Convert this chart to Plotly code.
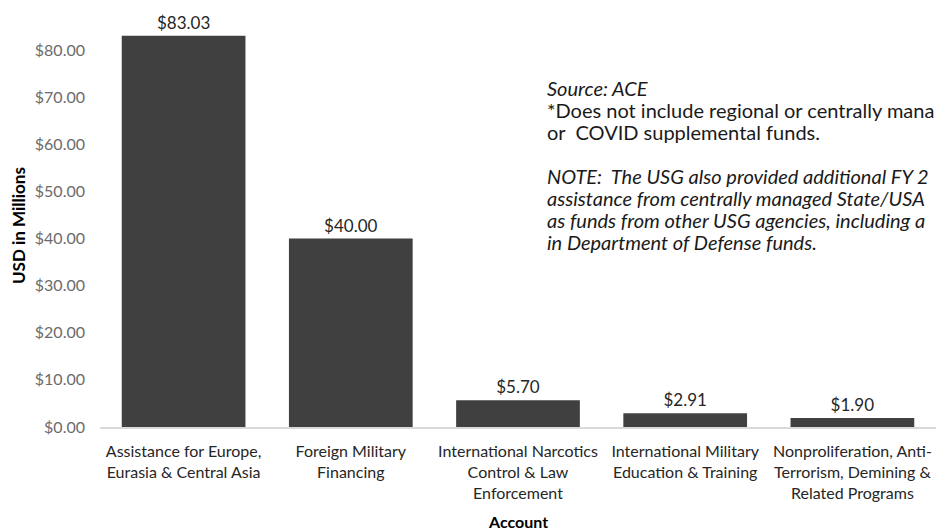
import plotly.graph_objects as go

categories = [
    "Assistance for Europe,<br>Eurasia & Central Asia",
    "Foreign Military<br>Financing",
    "International Narcotics<br>Control & Law<br>Enforcement",
    "International Military<br>Education & Training",
    "Nonproliferation, Anti-<br>Terrorism, Demining &<br>Related Programs",
]
values = [83.03, 40.00, 5.70, 2.91, 1.90]
y_tickvals = [0, 10, 20, 30, 40, 50, 60, 70, 80]
y_ticktext = ["$%.2f" % v for v in y_tickvals]

# note text as visible in the (right-cropped) reference
note_lines = [
    ("<i>Source: ACE</i>", 88),
    ("*Does not include regional or centrally mana", 110),
    ("or  COVID supplemental funds.", 132),
    ("<i>NOTE:  The USG also provided additional FY 2</i>", 176),
    ("<i>assistance from centrally managed State/USA</i>", 198),
    ("<i>as funds from other USG agencies, including a</i>", 220),
    ("<i>in Department of Defense funds.</i>", 242),
]

W, H = 936, 531
L, R, T, B = 100, 0, 3, 104
FONT = "Lato"

fig = go.Figure()
fig.add_trace(go.Bar(
    x=categories, y=values,
    marker=dict(color="#404040", line=dict(width=0)),
    texttemplate="$%{y:.2f}", textposition="outside",
    textfont=dict(family=FONT, size=17, color="#262626"),
    cliponaxis=False,
))

ph = H - T - B
pw = W - L - R
def py(ypx):
    return (H - B - ypx) / ph
def px(xpx):
    return (xpx - L) / pw

annotations = []
for txt, ypos in note_lines:
    annotations.append(dict(
        text=txt, xref="paper", yref="paper", x=px(545), y=py(ypos),
        xanchor="left", yanchor="middle", showarrow=False,
        font=dict(family=FONT, size=20, color="#1a1a1a"),
    ))
annotations.append(dict(
    text="<b>USD in Millions</b>", xref="paper", yref="paper",
    x=px(18), y=py(226), textangle=-90, xanchor="center", yanchor="middle",
    showarrow=False, font=dict(family=FONT, size=17, color="#000000"),
))
annotations.append(dict(
    text="<b>Account</b>", xref="paper", yref="paper",
    x=px(518), y=py(521), xanchor="center", yanchor="middle",
    showarrow=False, font=dict(family=FONT, size=16, color="#000000"),
))

fig.update_layout(
    width=W, height=H,
    margin=dict(l=L, r=R, t=T, b=B, pad=0),
    paper_bgcolor="white", plot_bgcolor="white",
    bargap=0.26, showlegend=False,
    annotations=annotations,
    xaxis=dict(
        showline=True, linecolor="#d9d9d9", linewidth=1.5,
        showgrid=False, ticks="", zeroline=False,
        tickfont=dict(family=FONT, size=16, color="#262626"),
        ticklabelstandoff=9,
    ),
    yaxis=dict(
        range=[0, 90], tickvals=y_tickvals, ticktext=y_ticktext,
        showgrid=False, zeroline=False, showline=False, ticks="",
        tickfont=dict(family=FONT, size=16, color="#6b6b6b"),
        ticklabelstandoff=14,
    ),
)

fig.write_html(
    "out.html",
    config={"displayModeBar": False},
    post_script="document.body.style.margin='0';document.body.style.overflow='hidden';",
)
